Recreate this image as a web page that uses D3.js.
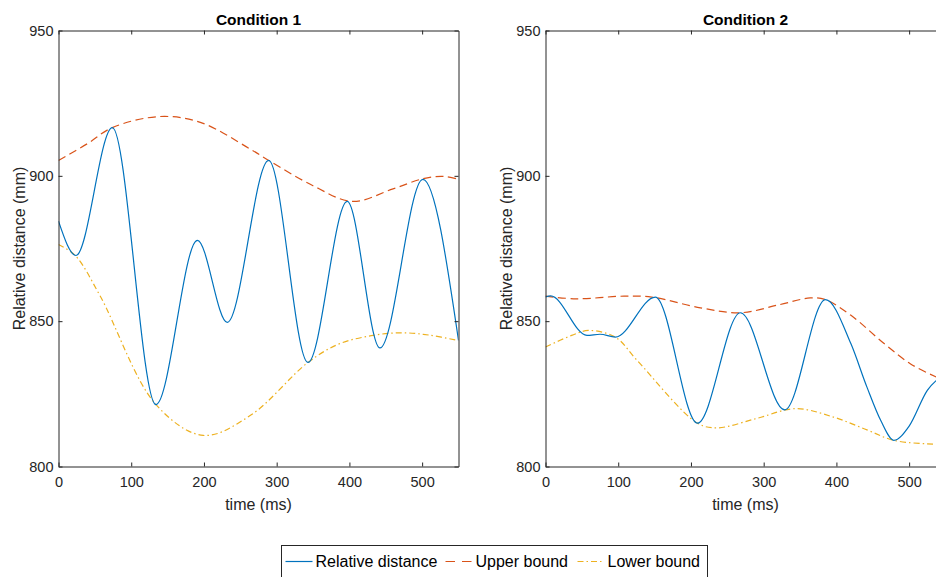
<!DOCTYPE html>
<html>
<head>
<meta charset="utf-8">
<script src="https://cdn.jsdelivr.net/npm/d3@7"></script>
<style>
  body { margin: 0; background: #fff; }
  svg { display: block; font-family: "Liberation Sans", Arial, sans-serif; }
  .axis path, .axis line { stroke: #262626; }
  .axis text { fill: #262626; font-size: 14.5px; font-family: "Liberation Sans", Arial, sans-serif; }
</style>
</head>
<body>
<div id="chart"></div>
<script>
// chart values (time in ms, distance in mm)
var xTicks = [0, 100, 200, 300, 400, 500];
var yTicks = [800, 850, 900, 950];
var titles = ["Condition 1", "Condition 2"];
var seriesNames = ["Relative distance", "Upper bound", "Lower bound"];

var relDist1 = [[0, 884.4], [24, 872.6], [74, 916.6], [134, 821.3], [191, 877.8], [232, 849.6],
                [289, 905.3], [343, 835.8], [397, 891.2], [442, 840.8], [501, 898.8], [550, 843.4]];
var upper1 = [[0, 905.3], [40, 911.1], [74, 916.6], [139, 920.4], [195, 918.4], [263, 909.3],
              [289, 905.3], [350, 896.6], [404, 891.2], [460, 895.5], [501, 899], [529, 899.8], [550, 898.8]];
var lower1 = [[0, 876.4], [23, 872.6], [57, 858.8], [134, 821.3], [199, 810.7],
              [264, 817.6], [343, 835.8], [386, 842.2], [430, 845], [470, 846], [510, 845.2], [550, 843.3]];

var relDist2 = [[0, 858.3], [7, 858.7], [57, 845.1], [75, 845.5], [96, 844.5], [151, 858.3],
                [209, 814.9], [268, 852.9], [329, 819.5], [385, 857.4], [420, 842.2], [442, 827.3],
                [461, 815.8], [479, 809], [500, 813.9], [525, 826.2], [550, 832]];
var upper2 = [[0, 858.6], [42, 857.7], [108, 858.6], [146, 858.3], [213, 854.6], [268, 852.9],
              [322, 855.7], [364, 858], [385, 857.4], [420, 852], [466, 842.2], [502, 835.3],
              [538, 830.7], [550, 829.5]];
var lower2 = [[0, 841.1], [36, 845.1], [59, 846.8], [96, 844.5], [126, 836.5], [209, 814.9],
              [236, 813.3], [290, 816.5], [344, 819.9], [396, 817], [442, 812.6], [479, 809],
              [538, 807.6], [550, 807.4]];

var panels = [
  {title: titles[0], left: 58, series: [relDist1, upper1, lower1]},
  {title: titles[1], left: 545, series: [relDist2, upper2, lower2]}
];

var colors = ["#0072BD", "#D95319", "#EDB120"];
var dashes = [null, "8,4.5", "6,3,1.5,3"];

var W = 936, H = 577;
var plotTop = 30, plotBottom = 466, plotW = 400;
var plotH = plotBottom - plotTop;

var svg = d3.select("#chart")
  .append("svg")
    .attr("width", W)
    .attr("height", H);

panels.forEach(function(p, i) {
  var x = d3.scaleLinear().domain([0, 550]).range([0, plotW]);
  var y = d3.scaleLinear().domain([800, 950]).range([plotH, 0]);

  var g = svg.append("g")
    .attr("transform", "translate(" + (p.left + 0.5) + "," + (plotTop + 0.5) + ")");

  g.append("clipPath").attr("id", "clip" + i)
    .append("rect").attr("width", plotW).attr("height", plotH);

  // measured curve: flat at its turning points; bounds: smooth envelopes
  var line = d3.line()
    .x(function(d) { return x(d[0]); })
    .y(function(d) { return y(d[1]); })
    .curve(d3.curveMonotoneX);
  var smooth = d3.line()
    .x(function(d) { return x(d[0]); })
    .y(function(d) { return y(d[1]); })
    .curve(d3.curveCatmullRom.alpha(0.5));

  // draw bounds first, then the measured curve on top
  [1, 2, 0].forEach(function(k) {
    g.append("path")
      .datum(p.series[k])
      .attr("clip-path", "url(#clip" + i + ")")
      .attr("fill", "none")
      .attr("stroke", colors[k])
      .attr("stroke-width", 1.2)
      .attr("stroke-dasharray", dashes[k])
      .attr("d", k === 0 ? line : smooth);
  });

  // box with inward ticks
  g.append("g").attr("class", "axis")
    .attr("transform", "translate(0," + plotH + ")")
    .call(d3.axisBottom(x).tickValues(xTicks).tickSizeInner(-4).tickSizeOuter(0).tickPadding(10));
  g.append("g").attr("class", "axis")
    .call(d3.axisTop(x).tickValues(xTicks).tickSizeInner(-4).tickSizeOuter(0).tickFormat(""));
  g.append("g").attr("class", "axis")
    .call(d3.axisLeft(y).tickValues(yTicks).tickSizeInner(-4).tickSizeOuter(0).tickPadding(5));
  g.append("g").attr("class", "axis")
    .attr("transform", "translate(" + plotW + ",0)")
    .call(d3.axisRight(y).tickValues(yTicks).tickSizeInner(-4).tickSizeOuter(0).tickFormat(""));

  // title
  g.append("text")
    .attr("x", plotW / 2)
    .attr("y", -6)
    .attr("text-anchor", "middle")
    .attr("font-size", 15.5)
    .attr("font-weight", "bold")
    .attr("fill", "#000")
    .text(p.title);

  // axis labels
  g.append("text")
    .attr("x", plotW / 2)
    .attr("y", plotH + 43)
    .attr("text-anchor", "middle")
    .attr("font-size", 16)
    .attr("fill", "#262626")
    .text("time (ms)");

  g.append("text")
    .attr("transform", "translate(-34," + (plotH / 2) + ") rotate(-90)")
    .attr("text-anchor", "middle")
    .attr("font-size", 16)
    .attr("fill", "#262626")
    .text("Relative distance (mm)");
});

// legend
var legend = svg.append("g").attr("transform", "translate(281.5,545.5)");
legend.append("rect")
  .attr("width", 426)
  .attr("height", 40)
  .attr("fill", "#fff")
  .attr("stroke", "#262626")
  .attr("stroke-width", 1);

var legendX = [[4, 34], [164, 194], [296, 326]];
seriesNames.forEach(function(name, k) {
  legend.append("line")
    .attr("x1", legendX[k][0]).attr("x2", legendX[k][0] + 27)
    .attr("y1", 16).attr("y2", 16)
    .attr("stroke", colors[k])
    .attr("stroke-width", 1.2)
    .attr("stroke-dasharray", k === 1 ? "9.5,7" : dashes[k]);
  legend.append("text")
    .attr("x", legendX[k][1])
    .attr("y", 21.5)
    .attr("font-size", 16)
    .attr("fill", "#000")
    .text(name);
});
</script>
</body>
</html>
